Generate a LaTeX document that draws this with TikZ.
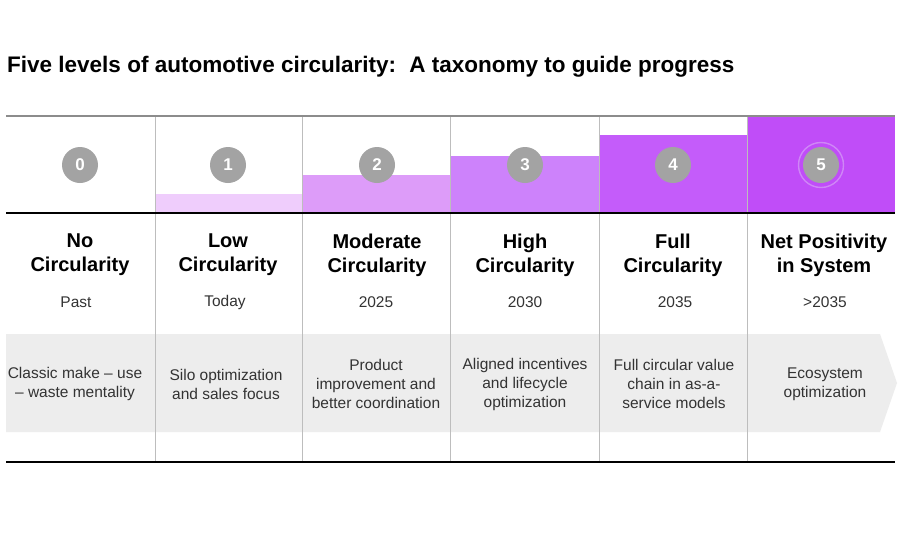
\documentclass[tikz,border=0pt]{standalone}
\usepackage{fontspec}
\setmainfont{Liberation Sans}
\definecolor{barA}{HTML}{EFCDFC}
\definecolor{barB}{HTML}{DD9CF9}
\definecolor{barC}{HTML}{CD82FB}
\definecolor{barD}{HTML}{C45CFA}
\definecolor{barE}{HTML}{C04DF8}
\definecolor{bandgray}{HTML}{EDEDED}
\definecolor{circgray}{HTML}{A3A3A3}
\definecolor{halo}{HTML}{CF86F6}
\definecolor{divgray}{HTML}{BDBDBD}
\definecolor{topgray}{HTML}{8C8C8C}
\definecolor{txt}{HTML}{333333}
\tikzset{
  titletext/.style={font=\fontsize{22.5}{27}\selectfont\bfseries, inner sep=0pt, anchor=base west, text=black},
  numcirc/.style={circle, fill=circgray, minimum size=36pt, inner sep=0pt, text=white, font=\fontsize{17}{17}\selectfont\bfseries},
  head/.style={font=\fontsize{20}{24}\selectfont\bfseries, align=center, inner sep=0pt, text=black},
  yeartext/.style={font=\fontsize{15.5}{19}\selectfont, inner sep=0pt, text=txt},
  desc/.style={font=\fontsize{15.5}{19}\selectfont, align=center, inner sep=0pt, text=txt},
  divider/.style={draw=divgray, line width=0.9pt},
}
\begin{document}
\begin{tikzpicture}[x=1pt,y=-1pt]
\useasboundingbox (0,0) rectangle (900,550);
\fill[white] (0,0) rectangle (900,550);
% title
\node[titletext] (title) at (7,72) {Five levels of automotive circularity:\hspace{5pt} A taxonomy to guide progress};
% bars
\fill[barA] (155,194) rectangle (302,213);
\fill[barB] (302,175) rectangle (450,213);
\fill[barC] (450,156) rectangle (599,213);
\fill[barD] (599,135) rectangle (747,213);
\fill[barE] (747,116) rectangle (895,213);
% band
\fill[bandgray] (6,334) -- (880,334) -- (897,383) -- (880,432) -- (6,432) -- cycle;
% dividers
\foreach \x in {155,302,450,599,747} {
  \draw[divider] (\x,116) -- (\x,462);
}
% lines
\draw[topgray, line width=2.4pt] (6,116) -- (895,116);
\draw[black, line width=2.6pt] (6,213) -- (895,213);
\draw[black, line width=2.4pt] (6,462) -- (895,462);
% circles
\node[numcirc] (n0) at (80,165) {0};
\node[numcirc] (n1) at (228,165) {1};
\node[numcirc] (n2) at (377,165) {2};
\node[numcirc] (n3) at (525,165) {3};
\node[numcirc] (n4) at (673,165) {4};
\node[numcirc] (n5) at (821,165) {5};
\draw[halo, line width=1.4pt] (n5.center) circle[radius=22.5pt];
% headings
\node[head] (h0) at (80,255) {No\\Circularity};
\node[head] (h1) at (228,255) {Low\\Circularity};
\node[head] (h2) at (377,255) {Moderate\\Circularity};
\node[head] (h3) at (525,255) {High\\Circularity};
\node[head] (h4) at (673,255) {Full\\Circularity};
\node[head] (h5) at (824,255) {Net Positivity\\in System};
% years
\node[yeartext] (y0) at (76,302) {Past};
\node[yeartext] (y1) at (225,302) {Today};
\node[yeartext] (y2) at (376,302) {2025};
\node[yeartext] (y3) at (525,302) {2030};
\node[yeartext] (y4) at (675,302) {2035};
\node[yeartext] (y5) at (825,302) {>2035};
% descriptions
\node[desc] (d0) at (75,384) {Classic make – use\\– waste mentality};
\node[desc] (d1) at (226,384) {Silo optimization\\and sales focus};
\node[desc] (d2) at (376,384) {Product\\improvement and\\better coordination};
\node[desc] (d3) at (525,384) {Aligned incentives\\and lifecycle\\optimization};
\node[desc] (d4) at (674,384) {Full circular value\\chain in as-a-\\service models};
\node[desc] (d5) at (825,384) {Ecosystem\\optimization};
\end{tikzpicture}
\end{document}
